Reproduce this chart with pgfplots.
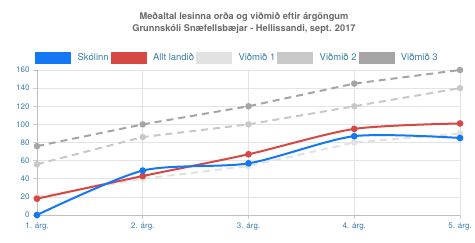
\documentclass[border=0pt]{standalone}
\usepackage{fontspec}
\setmainfont{TeX Gyre Heros}
\usepackage{pgfplots}
\pgfplotsset{compat=1.18}
\definecolor{cblue}{RGB}{20,120,245}
\definecolor{cred}{RGB}{214,72,68}
\definecolor{cv1}{RGB}{226,226,226}
\definecolor{cv2}{RGB}{200,200,200}
\definecolor{cv3}{RGB}{165,165,165}
\definecolor{ctick}{RGB}{55,125,165}
\definecolor{ctitle}{RGB}{105,105,105}
\definecolor{cgrid}{RGB}{228,228,228}
\begin{document}
\begin{tikzpicture}
\useasboundingbox (0,0) rectangle (475bp,243bp);
\node[font=\fontsize{9.3}{12.5}\selectfont\bfseries, text=ctitle, align=center] at (244bp,220bp)
  {Meðaltal lesinna orða og viðmið eftir árgöngum\\Grunnskóli Snæfellsbæjar - Hellissandi, sept. 2017};
\begin{axis}[
  at={(37bp,28bp)}, anchor=south west,
  scale only axis, width=423bp, height=145bp,
  xmin=1, xmax=5, ymin=0, ymax=160,
  ytick={0,20,...,160},
  xtick={1,2,3,4,5},
  xticklabels={1. árg.,2. árg.,3. árg.,4. árg.,5. árg.},
  grid=major, grid style={draw=cgrid, line width=0.6pt},
  axis x line*=bottom, axis y line*=left,
  axis line style={draw=black!25, line width=0.6pt},
  tick style={draw=black!20, line width=0.6pt},
  tick align=outside, major tick length=4bp,
  ticklabel style={font=\fontsize{8}{9}\selectfont, text=ctick},
  /pgf/number format/assume math mode=true,
  clip=false,
  legend columns=5,
  legend style={at={(axis description cs:0.474,1)}, anchor=south, yshift=6bp,
    draw=none, fill=none, inner sep=0pt,
    font=\fontsize{9.5}{10}\selectfont, text=ctick,
    nodes={inner sep=2bp},
    /tikz/every even column/.append style={column sep=0bp},
    /tikz/every odd column/.append style={column sep=5bp}},
  legend cell align=left,
]
\addlegendimage{legend image code/.code={\fill[cblue] (0bp,-5.8bp) rectangle (35bp,5.8bp);}}
\addlegendentry{Skólinn}
\addlegendimage{legend image code/.code={\fill[cred] (0bp,-5.8bp) rectangle (35bp,5.8bp);}}
\addlegendentry{Allt landið}
\addlegendimage{legend image code/.code={\fill[cv1] (0bp,-5.8bp) rectangle (35bp,5.8bp);}}
\addlegendentry{Viðmið 1}
\addlegendimage{legend image code/.code={\fill[cv2] (0bp,-5.8bp) rectangle (35bp,5.8bp);}}
\addlegendentry{Viðmið 2}
\addlegendimage{legend image code/.code={\fill[cv3] (0bp,-5.8bp) rectangle (35bp,5.8bp);}}
\addlegendentry{Viðmið 3}

\addplot[forget plot, color=cv3, line width=2bp, dash pattern=on 7bp off 5bp, mark=*, mark size=2.2bp, mark options={solid}]
  coordinates {(1,76) (2,100) (3,120) (4,145) (5,160)};
\addplot[forget plot, color=cv2, line width=2bp, dash pattern=on 7bp off 5bp, mark=*, mark size=2.2bp, mark options={solid}]
  coordinates {(1,56) (2,86) (3,100) (4,120) (5,140)};
\addplot[forget plot, color=cv1, line width=2bp, dash pattern=on 7bp off 5bp, mark=*, mark size=2.2bp, mark options={solid}]
  coordinates {(1,20) (2,40) (3,54) (4,80) (5,90)};
\addplot[forget plot, color=cred, line width=2bp, smooth, tension=0.45, mark=*, mark size=2.3bp]
  coordinates {(1,18) (2,43) (3,67) (4,95) (5,101)};
\addplot[forget plot, color=cblue, line width=2bp, smooth, tension=0.45, mark=*, mark size=2.3bp]
  coordinates {(1,0) (2,49) (3,57) (4,87) (5,85)};
\end{axis}
\end{tikzpicture}
\end{document}
